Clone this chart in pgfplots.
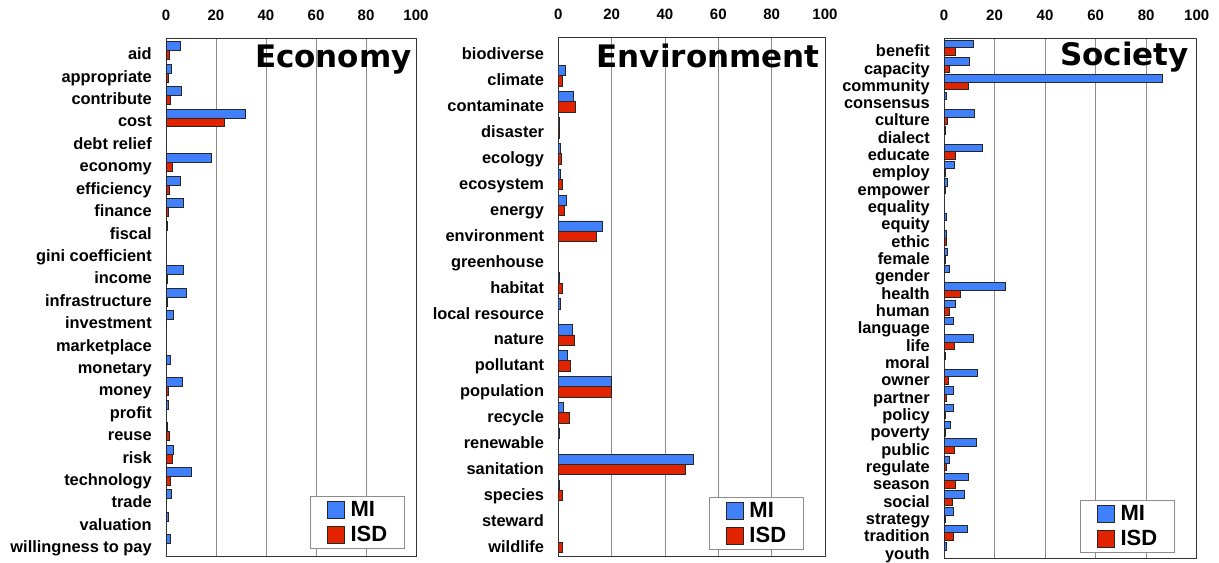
\documentclass[border=0pt]{standalone}
\usepackage{pgfplots}
\pgfplotsset{compat=1.18}
\usepackage{pgfplotstable}
\usepackage{fontspec}
\setmainfont{Liberation Sans}
\newfontfamily\titlefont{DejaVu Sans}
\definecolor{mi}{RGB}{64,128,250}
\definecolor{isd}{RGB}{225,35,0}

\pgfplotstableread{
idx MI ISD
0 5.9 1.3
1 2.1 0.9
2 6.3 1.7
3 31.6 23.5
4 0 0
5 18.3 2.7
6 5.6 1.4
7 7.1 1.0
8 0.5 0
9 0 0
10 7.1 0.7
11 8.3 0.7
12 2.8 0.3
13 0 0
14 1.6 0
15 6.5 1.1
16 0.8 0
17 0.5 1.5
18 3.1 2.7
19 10.1 1.9
20 2.0 0
21 1.1 0
22 1.6 0
}\econ

\pgfplotstableread{
idx MI ISD
0 0 0
1 2.75 1.4
2 5.75 6.5
3 0.4 0.3
4 0.9 1.1
5 0.9 1.6
6 2.9 2.4
7 16.75 14.25
8 0 0
9 0.5 1.6
10 0.9 0
11 5.25 6.25
12 3.4 4.6
13 19.9 20
14 2.0 4.25
15 0.6 0
16 50.6 47.75
17 0.5 1.75
18 0 0
19 0 1.4
}\envir

\pgfplotstableread{
idx MI ISD
0 11.7 4.6
1 9.9 2.2
2 86.3 9.5
3 0.8 0
4 12.0 1.4
5 0.6 0
6 15.3 4.6
7 4.1 0.5
8 1.2 0.5
9 0 0
10 0.9 0
11 0.9 0.8
12 1.4 0.5
13 2.0 0
14 24.3 6.4
15 4.6 2.2
16 3.6 0
17 11.6 4.3
18 0.6 0
19 13.3 1.7
20 3.8 0.8
21 3.6 0.5
22 2.5 0.5
23 12.8 4.2
24 2.2 1.1
25 9.6 4.6
26 7.9 3.4
27 3.8 0.5
28 9.1 3.6
29 1.1 0
}\soc

\pgfplotsset{
  panel/.style={
    xbar, scale only axis, anchor=north west,
    xmin=0, xmax=100, xtick={0,20,...,100},
    xticklabel pos=upper, major tick length=0pt,
    xmajorgrids, major grid style={black!45, line width=0.6pt},
    axis line style={black!80, line width=0.6pt},
    y dir=reverse,
    /pgf/number format/assume math mode=true,
    xticklabel style={font=\fontsize{11.25}{12}\selectfont\bfseries, inner sep=0pt, anchor=south, yshift=12.75pt},
    yticklabel style={font=\fontsize{12.3}{13}\selectfont\bfseries, inner sep=0pt, anchor=base east, xshift=-10.5pt, yshift=-6.75pt},
    bar width=0.4,
    legend style={anchor=south east, draw=black!45, fill=white, line width=0.6pt,
      font=\fontsize{16.5}{17.6}\selectfont\bfseries, inner xsep=12pt, inner ysep=2.5pt,
      row sep=4pt, cells={anchor=west}, nodes={inner sep=1pt},
      /tikz/every odd column/.append style={column sep=3.5pt}},
    legend image code/.code={\draw[##1] (0pt,-6.4pt) rectangle (12.75pt,6.4pt);},
    x filter/.expression={x<=0 ? nan : x},
    unbounded coords=discard,
  },
  mistyle/.style={fill=mi, draw=black!85, line width=0.7pt, bar shift=-0.2},
  isdstyle/.style={fill=isd, draw=black!85, line width=0.7pt, bar shift=0.2},
}

\begin{document}
\begin{tikzpicture}
\path[use as bounding box] (0,0) rectangle (914.25pt,421.5pt);

\begin{axis}[panel, at={(124.5pt,393pt)}, width=187.5pt, height=388.5pt,
  ymin=-0.57, ymax=22.55,
  yticklabels={aid,appropriate,contribute,cost,debt relief,economy,efficiency,finance,fiscal,gini coefficient,income,infrastructure,investment,marketplace,monetary,money,profit,reuse,risk,technology,trade,valuation,willingness to pay},
  ytick={0,...,22},
  legend style={at={(0.956,0.0135)}}]
\addplot[mistyle] table[x=MI, y=idx] {\econ};
\addplot[isdstyle] table[x=ISD, y=idx] {\econ};
\legend{MI,ISD}
\node[anchor=base east, font=\fontsize{23.25}{24}\titlefont\bfseries, inner sep=0pt] at (axis description cs:1,1) [xshift=-3pt, yshift=-21.75pt] {Economy};
\end{axis}

\begin{axis}[panel, at={(418.7pt,393.75pt)}, width=200pt, height=389.25pt,
  ymin=-0.5, ymax=19.53,
  yticklabels={biodiverse,climate,contaminate,disaster,ecology,ecosystem,energy,environment,greenhouse,habitat,local resource,nature,pollutant,population,recycle,renewable,sanitation,species,steward,wildlife},
  ytick={0,...,19},
  yticklabel style={yshift=-0.75pt},
  legend style={at={(0.921,0.0116)}}]
\addplot[mistyle] table[x=MI, y=idx] {\envir};
\addplot[isdstyle] table[x=ISD, y=idx] {\envir};
\legend{MI,ISD}
\node[anchor=base east, font=\fontsize{23.25}{24}\titlefont\bfseries, inner sep=0pt] at (axis description cs:1,1) [xshift=-3.75pt, yshift=-22.5pt] {Environment};
\end{axis}

\begin{axis}[panel, at={(708pt,393pt)}, width=189.5pt, height=390pt,
  ymin=-0.56, ymax=29.46,
  yticklabels={benefit,capacity,community,consensus,culture,dialect,educate,employ,empower,equality,equity,ethic,female,gender,health,human,language,life,moral,owner,partner,policy,poverty,public,regulate,season,social,strategy,tradition,youth},
  ytick={0,...,29},
  bar width=0.43,
  legend style={at={(0.914,0.0096)}}]
\addplot[mistyle, bar shift=-0.215] table[x=MI, y=idx] {\soc};
\addplot[isdstyle, bar shift=0.215] table[x=ISD, y=idx] {\soc};
\legend{MI,ISD}
\node[anchor=base east, font=\fontsize{23.25}{24}\titlefont\bfseries, inner sep=0pt] at (axis description cs:1,1) [xshift=-5.75pt, yshift=-20.25pt] {Society};
\end{axis}
\end{tikzpicture}
\end{document}
